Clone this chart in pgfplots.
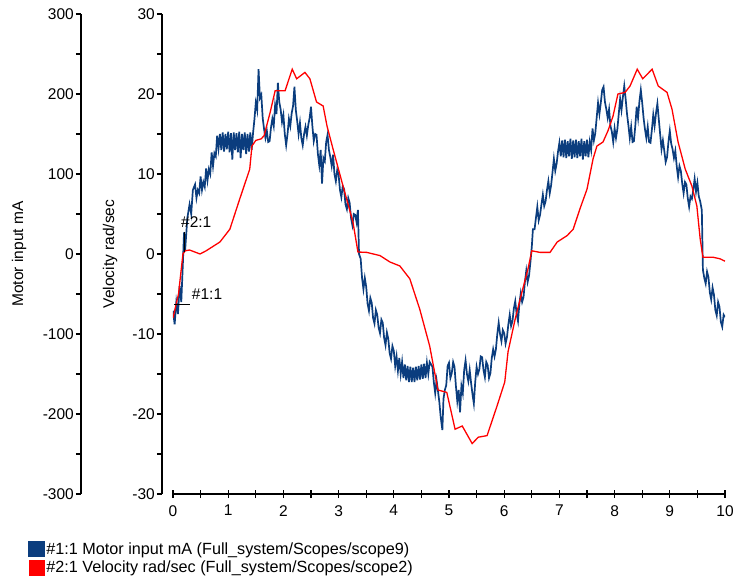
\documentclass[border=0pt]{standalone}
\usepackage{fontspec}
\setmainfont{Liberation Sans}
\usepackage{pgfplots}
\pgfplotsset{compat=1.18}
\definecolor{mablue}{HTML}{0B3D7E}
\definecolor{vred}{HTML}{FF0000}
\newcommand{\scopefont}{\fontsize{15.5bp}{18bp}\selectfont}

\pgfplotsset{
  scopeax/.style={
    scale only axis, anchor=south west, height=480bp,
    /pgf/number format/assume math mode=true,
    tick label style={font=\scopefont},
    label style={font=\scopefont},
    axis line style={black, line width=1.2bp},
    every tick/.style={black, line width=1.2bp},
  },
  yonly/.style={
    scopeax, width=10bp, xmin=0, xmax=1,
    axis x line=none, axis y line*=left,
    tick align=outside, minor y tick num=1,
    major tick length=5bp, minor tick length=5bp,
    yticklabel style={inner sep=2bp},
  },
}

\begin{document}
\begin{tikzpicture}
\useasboundingbox (-173bp,-89bp) rectangle (563bp,494bp);

% outer y axis (mA)
\begin{axis}[yonly, at={(-92bp,0)}, ymin=-300, ymax=300,
  ytick={-300,-200,...,300},
  ylabel={Motor input mA},
  ylabel style={at={(axis description cs:-6.2,0.5)}, anchor=center}]
\end{axis}

% inner y axis (rad/sec)
\begin{axis}[yonly, at={(-11bp,0)}, ymin=-30, ymax=30,
  ytick={-30,-20,...,30},
  ylabel={Velocity rad/sec},
  ylabel style={at={(axis description cs:-5.2,0.5)}, anchor=center}]
\end{axis}

% motor current
\begin{axis}[scopeax, at={(0,0)}, width=552bp,
  xmin=0, xmax=10, ymin=-300, ymax=300, hide axis,
  legend cell align=left,
  legend style={at={(axis description cs:-0.2627,-0.097)}, anchor=north west,
    draw=none, fill=none, inner sep=0pt, font=\fontsize{16.2bp}{18bp}\selectfont,
    row sep=2bp, nodes={inner sep=1.5bp}}]
\addplot[mablue, line width=1.7bp,
  legend image code/.code={\fill[mablue] (0bp,-7.5bp) rectangle (15bp,7.5bp);}]
coordinates {
(0.00,-71) (0.03,-88) (0.06,-60) (0.09,-75) (0.12,-40) (0.15,-60) (0.18,-10)
(0.20,27) (0.22,5) (0.26,45) (0.30,62) (0.33,50) (0.36,80)
(0.40,87) (0.425,70) (0.45,80) (0.475,76) (0.50,97) (0.525,80) (0.55,90) (0.575,84)
(0.60,107) (0.625,92) (0.65,106) (0.675,100) (0.70,127) (0.725,110) (0.75,126) (0.775,122)
(0.800,148) (0.825,132) (0.850,150) (0.875,130) (0.900,152) (0.925,128) (0.950,150)
(0.975,131) (1.000,153) (1.025,127) (1.050,151) (1.075,118) (1.100,152) (1.125,130)
(1.150,151) (1.175,127) (1.200,153) (1.225,120) (1.250,150) (1.275,130) (1.300,152)
(1.325,125) (1.350,150) (1.375,128) (1.400,152) (1.425,130)
(1.45,151) (1.475,168) (1.50,189) (1.525,180) (1.55,231) (1.575,195)
(1.60,199) (1.625,170) (1.65,156) (1.675,145) (1.70,154) (1.725,140) (1.75,141) (1.775,158)
(1.80,169) (1.825,160) (1.85,186) (1.875,175) (1.90,214) (1.925,190) (1.95,181) (1.975,165)
(2.00,174) (2.025,150) (2.05,136) (2.075,150) (2.10,169) (2.125,160) (2.15,176) (2.175,185)
(2.20,209) (2.225,180) (2.25,166) (2.275,150) (2.30,164) (2.325,145) (2.35,136) (2.375,150)
(2.40,159) (2.425,148) (2.45,161) (2.475,170) (2.50,184) (2.525,160) (2.55,141) (2.575,150)
(2.60,149) (2.625,125) (2.65,111) (2.675,130) (2.70,88) (2.725,120) (2.75,116) (2.775,140)
(2.80,149) (2.825,130) (2.85,121) (2.875,110) (2.90,124) (2.925,100) (2.95,91) (2.975,105)
(3.00,99) (3.025,80) (3.05,71) (3.075,85) (3.10,81) (3.125,62) (3.15,56) (3.175,70)
(3.20,64) (3.225,45) (3.25,36) (3.275,50) (3.30,49) (3.325,40) (3.35,55) (3.37,0)
(3.40,-6) (3.425,-30) (3.45,-44) (3.475,-30) (3.50,-41) (3.525,-62)
(3.55,-71) (3.575,-55) (3.60,-61) (3.625,-80) (3.65,-87) (3.675,-70) (3.70,-76) (3.725,-92)
(3.75,-99) (3.775,-82) (3.80,-86) (3.825,-105) (3.85,-114) (3.875,-98) (3.90,-106) (3.925,-124)
(3.95,-131) (3.975,-115)
(4.000,-121) (4.025,-140) (4.050,-128) (4.075,-146) (4.100,-130) (4.125,-150) (4.150,-135)
(4.175,-155) (4.200,-138) (4.225,-158) (4.250,-140) (4.275,-160) (4.300,-141) (4.325,-160)
(4.350,-142) (4.375,-160) (4.400,-141) (4.425,-158) (4.450,-140) (4.475,-157) (4.500,-138)
(4.525,-156) (4.550,-137) (4.575,-155) (4.600,-136) (4.625,-150) (4.650,-135)
(4.70,-141) (4.725,-160)
(4.75,-174) (4.775,-158) (4.80,-171) (4.825,-185) (4.85,-204) (4.88,-220) (4.90,-181) (4.925,-170)
(4.95,-164) (4.975,-140) (5.00,-136) (5.025,-155) (5.05,-149) (5.075,-135)
(5.10,-141) (5.125,-165) (5.15,-184) (5.175,-170) (5.20,-198) (5.225,-165) (5.25,-174) (5.275,-145)
(5.30,-133) (5.325,-150) (5.35,-159) (5.375,-145) (5.40,-161) (5.425,-175) (5.45,-187) (5.475,-160)
(5.50,-141) (5.525,-150) (5.55,-144) (5.575,-128) (5.60,-129) (5.625,-145) (5.65,-154) (5.675,-135)
(5.70,-139) (5.725,-155) (5.75,-149) (5.775,-130) (5.80,-119) (5.825,-128) (5.85,-119) (5.875,-100)
(5.90,-86) (5.925,-100) (5.95,-109) (5.975,-95) (6.00,-99) (6.025,-112) (6.05,-104) (6.075,-88)
(6.10,-76) (6.125,-90) (6.15,-84) (6.175,-68) (6.20,-59) (6.225,-75) (6.25,-84) (6.275,-62)
(6.30,-49) (6.325,-60) (6.35,-54) (6.375,-35) (6.40,-21) (6.425,-35) (6.45,-27) (6.475,-10)
(6.50,9) (6.52,31) (6.55,31) (6.575,45) (6.60,59) (6.625,42)
(6.65,49) (6.675,62) (6.70,74) (6.725,60) (6.75,66) (6.775,80) (6.80,91) (6.825,76)
(6.85,86) (6.875,102) (6.90,119) (6.925,104) (6.95,113) (6.975,128)
(7.000,139) (7.025,122) (7.050,142) (7.075,121) (7.100,143) (7.125,120) (7.150,141)
(7.175,122) (7.200,144) (7.225,119) (7.250,142) (7.275,121) (7.300,143) (7.325,120)
(7.350,141) (7.375,122) (7.400,144) (7.425,118) (7.450,141) (7.475,122) (7.500,143)
(7.525,121) (7.550,140) (7.575,130)
(7.60,157) (7.625,142) (7.65,151) (7.675,170) (7.70,189) (7.725,175) (7.75,189) (7.775,205)
(7.80,209) (7.825,190) (7.85,181) (7.875,170) (7.90,181) (7.925,160) (7.95,153) (7.975,140)
(8.00,157) (8.025,145) (8.05,156) (8.075,175) (8.10,194) (8.125,180) (8.15,196) (8.175,210)
(8.20,194) (8.225,175) (8.25,161) (8.275,145) (8.30,159) (8.325,140) (8.35,141) (8.375,160)
(8.40,184) (8.425,170) (8.45,191) (8.475,205) (8.50,189) (8.525,170) (8.55,156) (8.575,145)
(8.60,159) (8.625,140) (8.65,139) (8.675,155) (8.70,174) (8.725,160) (8.75,176) (8.775,188)
(8.80,169) (8.825,150) (8.85,131) (8.875,142) (8.90,129) (8.925,115) (8.95,121) (8.975,140)
(9.00,154) (9.025,138) (9.05,131) (9.075,120) (9.10,129) (9.125,110) (9.15,96) (9.175,110)
(9.20,104) (9.225,88) (9.25,76) (9.275,90) (9.30,87) (9.325,70) (9.35,59) (9.375,72)
(9.40,69) (9.425,80) (9.45,94) (9.475,78) (9.50,89) (9.525,72) (9.55,66) (9.58,55)
(9.60,-20) (9.625,-30) (9.65,-37) (9.675,-22) (9.70,-29) (9.725,-48) (9.75,-57) (9.775,-42)
(9.80,-51) (9.825,-70) (9.85,-77) (9.875,-60) (9.90,-66) (9.925,-85) (9.95,-91) (9.975,-76)
(10.00,-79)
};
\addlegendentry{\#1:1 Motor input mA (Full\_system/Scopes/scope9)}
\addlegendimage{legend image code/.code={\fill[vred] (0bp,-7.5bp) rectangle (15bp,7.5bp);}}
\addlegendentry{\#2:1 Velocity rad/sec (Full\_system/Scopes/scope2)}
\end{axis}

% velocity and time axis
\begin{axis}[scopeax, at={(0,0)}, width=552bp,
  xmin=0, xmax=10, ymin=-30, ymax=30,
  axis x line*=bottom, axis y line=none,
  xtick={0,...,10}, minor x tick num=1, tick align=center,
  major tick length=8bp, minor tick length=8bp,
  xticklabel style={inner sep=2bp, yshift=-5bp}]
\addplot[vred, line width=1.3bp] coordinates {
(0,-8) (0.1,-5) (0.18,0) (0.22,0.4) (0.3,0.5) (0.49,0) (0.6,0.4) (0.85,1.5)
(1.03,3.1) (1.21,6.9) (1.39,10.6) (1.43,13.5) (1.5,14.2) (1.6,14.4) (1.65,14.8)
(1.76,17.7) (1.85,20.4) (2.03,20.4) (2.16,23.1) (2.24,21.9) (2.39,22.7) (2.48,21.9)
(2.6,19) (2.72,18.5) (2.79,16) (2.9,13.1) (3.08,8.5) (3.26,4) (3.35,0.25) (3.51,0.2)
(3.75,-0.2) (3.93,-1) (4.11,-1.5) (4.29,-3.1) (4.47,-6.9) (4.65,-11.5) (4.8,-17)
(4.96,-17.3) (5.11,-21.9) (5.24,-21.5) (5.42,-23.7) (5.53,-22.9) (5.69,-22.7)
(5.87,-19) (6.01,-16) (6.07,-12.2) (6.2,-8.1) (6.32,-4.8) (6.43,-1.9) (6.5,0.4)
(6.65,0.2) (6.83,0.2) (6.96,1.5) (7.14,2.3) (7.25,3.1) (7.37,5.6) (7.5,8.1)
(7.61,11.9) (7.68,13.5) (7.79,14) (7.88,15.4) (7.97,17.2) (8.06,20) (8.19,20.2)
(8.28,21) (8.41,23.1) (8.51,21.9) (8.68,23.1) (8.79,21) (8.95,20.2) (9.04,18.1)
(9.15,14) (9.28,10.6) (9.4,8.5) (9.49,6) (9.55,1.9) (9.6,-0.4) (9.78,-0.4)
(9.91,-0.6) (10,-0.9)
};
\draw[black, line width=1bp] (axis cs:0.2,2.8) -- (axis cs:0.2,0.3);
\draw[black, line width=1bp] (axis cs:0.02,-6.25) -- (axis cs:0.3,-6.25);
\node[anchor=west, inner sep=0pt, font=\scopefont] at (axis cs:0.145,4) {\#2:1};
\node[anchor=west, inner sep=0pt, font=\scopefont] at (axis cs:0.34,-5) {\#1:1};
\end{axis}
\end{tikzpicture}
\end{document}
